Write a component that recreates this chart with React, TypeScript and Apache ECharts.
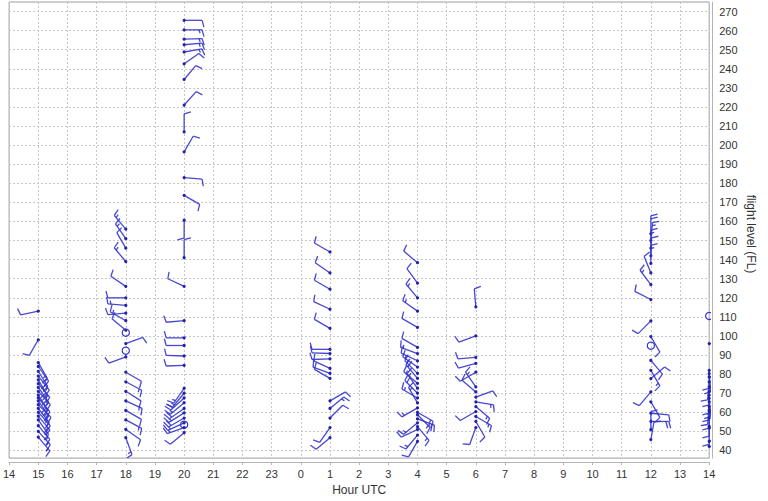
import React, { useEffect, useRef } from 'react';
import * as echarts from 'echarts';

// Profile times (hours since 00 UTC of first day; 25 = 01 UTC next day)
const profileHours = [15, 18, 20, 25, 28, 30, 36, 38];

// Flight levels (FL), wind direction (deg, from), wind speed (kt) per profile
const levelsH15 = [113, 98, 86, 84, 81.5, 79, 77, 75, 73, 71, 69, 67.5, 66, 64, 62, 60, 58, 56, 53, 50, 47];
const dirsH15 = [258, 210, 150, 145, 148, 142, 150, 140, 145, 138, 148, 140, 145, 135, 142, 138, 140, 145, 140, 138, 140];
const speedsH15 = [10, 10, 15, 15, 20, 15, 20, 15, 20, 15, 20, 15, 15, 20, 15, 15, 20, 15, 15, 15, 15];

const levelsH18 = [156, 151, 146, 139, 126, 120, 116, 112, 108, 103, 101.7, 96, 92.3, 89, 81, 76, 71, 66, 61, 56, 51, 46.7];
const dirsH18 = [320, 325, 330, 320, 304, 270, 275, 265, 300, 310, 0, 70, 0, 250, 120, 118, 122, 115, 120, 118, 125, 160];
const speedsH18 = [15, 15, 10, 15, 10, 10, 15, 10, 15, 10, 0, 10, 0, 10, 10, 15, 10, 15, 10, 15, 10, 15];

const levelsH20 = [265.4, 260.4, 255.5, 252.6, 248.8, 242.6, 234.4, 221, 207, 196.5, 183, 173.7, 160.7, 141, 126, 108, 99, 95, 89.5, 84.6, 72.6, 70, 67.5, 65, 62, 59.7, 57, 54.5, 53.5, 52, 49.3];
const dirsH20 = [90, 90, 88, 85, 80, 55, 40, 42, 0, 30, 95, 120, 180, 0, 295, 265, 270, 270, 272, 268, 215, 220, 228, 230, 235, 238, 240, 245, 0, 250, 230];
const speedsH20 = [10, 15, 15, 15, 15, 10, 10, 10, 10, 10, 10, 10, 10, 10, 10, 10, 10, 10, 10, 10, 15, 15, 20, 15, 20, 15, 20, 15, 0, 15, 10];

const levelsH01 = [144, 133, 124.5, 114, 104, 93, 90.8, 88, 83, 80.4, 77.8, 66, 62, 57, 52, 46.7];
const dirsH01 = [300, 305, 300, 295, 300, 270, 272, 268, 295, 290, 300, 60, 50, 45, 215, 230];
const speedsH01 = [10, 10, 10, 10, 10, 10, 10, 10, 10, 10, 10, 10, 15, 10, 10, 10];

const levelsH04 = [138.4, 127.7, 120, 113, 104.5, 94, 90.8, 87, 83.7, 80.4, 77.8, 75.2, 72.6, 70, 67.5, 64.9, 62.3, 60, 58.7, 56.5, 54.5, 52.5, 51, 48, 44.8];
const dirsH04 = [310, 324, 320, 305, 300, 300, 290, 295, 305, 315, 320, 310, 325, 315, 300, 330, 240, 120, 135, 110, 230, 140, 245, 220, 210];
const speedsH04 = [10, 10, 15, 15, 10, 10, 15, 10, 15, 15, 20, 15, 15, 20, 15, 15, 15, 20, 15, 20, 15, 15, 10, 15, 10];

const levelsH06 = [115.3, 100, 88.8, 85.6, 81, 73.3, 70.7, 68, 65.5, 63, 60.4, 57.8, 55.2, 52];
const dirsH06 = [355, 250, 265, 255, 240, 325, 310, 70, 100, 130, 240, 120, 150, 200];
const speedsH06 = [10, 10, 10, 10, 10, 15, 10, 10, 15, 15, 10, 15, 10, 10];

const levelsH12 = [153.5, 150, 146, 142, 138, 133, 126.9, 119.1, 107.9, 99.7, 94.9, 87.2, 82, 77.7, 70.7, 65.5, 59.5, 55.2, 50.9, 45.7];
const dirsH12 = [0, 5, 0, 2, 0, 338, 323, 297, 225, 150, 0, 140, 150, 50, 220, 150, 95, 90, 0, 10];
const speedsH12 = [20, 15, 15, 10, 15, 10, 15, 10, 10, 10, 0, 10, 15, 10, 10, 10, 10, 20, 10, 10];

const levelsH14 = [110.5, 96, 82, 80.3, 78.5, 75.9, 73.3, 70.8, 69, 67.3, 65.5, 63, 61.2, 60.4, 57, 52.6, 51.8, 44.8, 42.2];
const dirsH14 = [0, 90, 180, 175, 90, 185, 180, 90, 180, 175, 180, 185, 180, 90, 180, 180, 90, 60, 100];
const speedsH14 = [0, 10, 10, 10, 10, 10, 10, 10, 10, 15, 10, 10, 10, 10, 10, 10, 10, 10, 10];

const profileLevels = [levelsH15, levelsH18, levelsH20, levelsH01, levelsH04, levelsH06, levelsH12, levelsH14];
const profileDirs = [dirsH15, dirsH18, dirsH20, dirsH01, dirsH04, dirsH06, dirsH12, dirsH14];
const profileSpeeds = [speedsH15, speedsH18, speedsH20, speedsH01, speedsH04, speedsH06, speedsH12, speedsH14];

const xMin = 14;
const xMax = 38;
const yMin = 36;
const yMax = 275;

const BLUE = '#3434cc';
const DOT = '#2222aa';

function buildData() {
  const out: number[][] = [];
  profileHours.forEach((h, i) => {
    const lv = profileLevels[i];
    lv.forEach((l, j) => {
      out.push([h, l, profileDirs[i][j], profileSpeeds[i][j]]);
    });
  });
  return out;
}

function renderBarb(params: any, api: any) {
  const t = api.value(0);
  const fl = api.value(1);
  const dir = api.value(2);
  const spd = api.value(3);
  const pt = api.coord([t, fl]);
  const children: any[] = [];
  if (spd < 2.5) {
    children.push({
      type: 'circle',
      shape: { cx: pt[0], cy: pt[1], r: 3.6 },
      style: { stroke: BLUE, fill: 'none', lineWidth: 1.2 },
    });
    return { type: 'group', children };
  }
  const d = (dir * Math.PI) / 180;
  const ux = Math.sin(d);
  const uy = -Math.cos(d);
  const fa = d + (75 * Math.PI) / 180;
  const fx = Math.sin(fa);
  const fy = -Math.cos(fa);
  const L = 18;
  const FLEN = 7;
  const GAP = 3;
  const tx = pt[0] + ux * L;
  const ty = pt[1] + uy * L;
  const ls = { stroke: BLUE, lineWidth: 1.3, opacity: 0.9 };
  children.push({ type: 'line', shape: { x1: pt[0], y1: pt[1], x2: tx, y2: ty }, style: ls });
  let rem = Math.round(spd / 5) * 5;
  let pos = 0;
  while (rem >= 50) {
    const bx = tx - ux * pos;
    const by = ty - uy * pos;
    const cx2 = tx - ux * (pos + 4);
    const cy2 = ty - uy * (pos + 4);
    children.push({
      type: 'polygon',
      shape: { points: [[bx, by], [bx + fx * FLEN, by + fy * FLEN], [cx2, cy2]] },
      style: { fill: BLUE },
    });
    pos += 5;
    rem -= 50;
  }
  while (rem >= 10) {
    const bx = tx - ux * pos;
    const by = ty - uy * pos;
    children.push({ type: 'line', shape: { x1: bx, y1: by, x2: bx + fx * FLEN, y2: by + fy * FLEN }, style: ls });
    pos += GAP;
    rem -= 10;
  }
  if (rem >= 5) {
    if (pos === 0) pos = GAP;
    const bx = tx - ux * pos;
    const by = ty - uy * pos;
    children.push({ type: 'line', shape: { x1: bx, y1: by, x2: bx + fx * FLEN * 0.5, y2: by + fy * FLEN * 0.5 }, style: ls });
  }
  children.push({ type: 'circle', shape: { cx: pt[0], cy: pt[1], r: 1.6 }, style: { fill: DOT } });
  return { type: 'group', children };
}

export default function App() {
  const ref = useRef<HTMLDivElement>(null);
  useEffect(() => {
    if (!ref.current) return;
    const chart = echarts.init(ref.current, undefined, { renderer: 'svg' });
    const font = 'Arial, "Liberation Sans", sans-serif';
    const yGridColors = ['rgba(0,0,0,0)', 'rgba(0,0,0,0)', '#c6c6c6', 'rgba(0,0,0,0)', 'rgba(0,0,0,0)'];
    chart.setOption({
      animation: false,
      backgroundColor: '#ffffff',
      grid: {
        left: 6.7,
        right: 58.8,
        top: 2,
        bottom: 37.6,
        show: true,
        borderColor: '#9c9c9c',
        borderWidth: 1,
        backgroundColor: '#ffffff',
      },
      xAxis: {
        type: 'value',
        min: xMin,
        max: xMax,
        interval: 1,
        offset: 4,
        name: 'Hour UTC',
        nameLocation: 'middle',
        nameGap: 21,
        nameTextStyle: { fontFamily: font, fontSize: 12, color: '#333' },
        axisLine: { show: true, lineStyle: { color: '#b4b4b4' } },
        axisTick: { show: true, length: 3, lineStyle: { color: '#b4b4b4' } },
        axisLabel: {
          margin: 6,
          fontFamily: font,
          fontSize: 11,
          color: '#333',
          formatter: (v: number) => String(Math.round(v) % 24),
        },
        splitLine: { show: true, lineStyle: { color: '#c6c6c6', type: [2, 2], width: 1 } },
      },
      yAxis: {
        type: 'value',
        position: 'right',
        min: yMin,
        max: yMax,
        interval: 2,
        offset: 3,
        axisLine: { show: true, lineStyle: { color: '#b4b4b4' } },
        axisTick: { show: false },
        axisLabel: {
          margin: 7,
          fontFamily: font,
          fontSize: 11,
          color: '#333',
          formatter: (v: number) => (Math.round(v) % 10 === 0 ? String(Math.round(v)) : ''),
        },
        splitLine: { show: true, lineStyle: { color: yGridColors, type: [2, 2], width: 1 } },
      },
      graphic: [
        {
          type: 'text',
          x: 751,
          y: 234,
          rotation: -Math.PI / 2,
          style: {
            text: 'flight level (FL)',
            fill: '#333',
            font: '12px Arial, "Liberation Sans", sans-serif',
            align: 'center',
            verticalAlign: 'middle',
          },
        },
      ],
      series: [
        {
          type: 'custom',
          renderItem: renderBarb,
          data: buildData(),
          encode: { x: 0, y: 1 },
          clip: true,
          silent: true,
        },
      ],
    });
    return () => chart.dispose();
  }, []);
  return <div ref={ref} style={{ position: 'fixed', left: 0, top: 0, width: 768, height: 501 }} />;
}
